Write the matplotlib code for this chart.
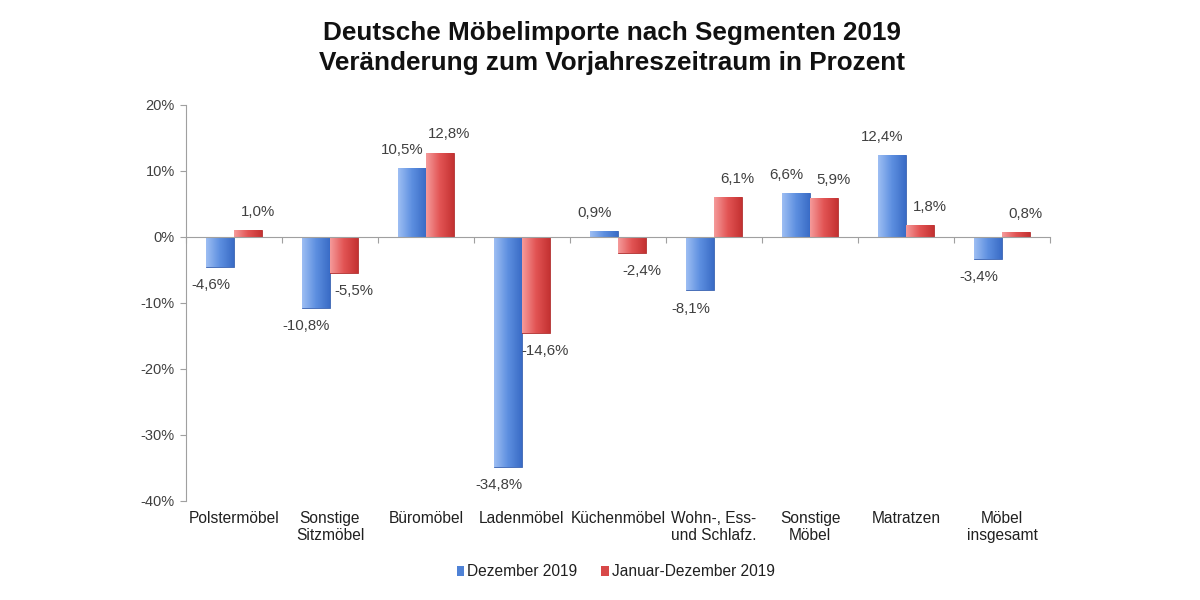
import matplotlib
matplotlib.use("Agg")
import matplotlib.pyplot as plt
import numpy as np
from matplotlib.colors import LinearSegmentedColormap
from matplotlib.patches import Patch

categories = ["Polstermöbel", "Sonstige\nSitzmöbel", "Büromöbel", "Ladenmöbel",
              "Küchenmöbel", "Wohn-, Ess-\nund Schlafz.", "Sonstige\nMöbel",
              "Matratzen", "Möbel\ninsgesamt"]
dez_2019 = [-4.6, -10.8, 10.5, -34.8, 0.9, -8.1, 6.6, 12.4, -3.4]
jan_dez_2019 = [1.0, -5.5, 12.8, -14.6, -2.4, 6.1, 5.9, 1.8, 0.8]
series_names = ["Dezember 2019", "Januar-Dezember 2019"]
yticks = [-40, -30, -20, -10, 0, 10, 20]

plt.rcParams['font.family'] = ['Liberation Sans', 'DejaVu Sans']

fig = plt.figure(figsize=(12, 6), dpi=100)
ax = fig.add_axes([0.155, 0.165, 0.72, 0.66])

x = np.arange(len(categories))
w = 0.29
blue_cmap = LinearSegmentedColormap.from_list("b", ["#9dbef3", "#5d8fe0", "#3a6cc6"])
red_cmap = LinearSegmentedColormap.from_list("r", ["#f59a9a", "#e25454", "#c43232"])

bars_b = ax.bar(x - w / 2, dez_2019, width=w, color="#5d8fe0", edgecolor="#3a62b0", linewidth=0.6, zorder=2)
bars_r = ax.bar(x + w / 2, jan_dez_2019, width=w, color="#e25454", edgecolor="#b03030", linewidth=0.6, zorder=2)

grad = np.linspace(0, 1, 64).reshape(1, -1)
for bars, cmap in ((bars_b, blue_cmap), (bars_r, red_cmap)):
    for p in bars:
        bx, by = p.get_x(), p.get_y()
        bw, bh = p.get_width(), p.get_height()
        im = ax.imshow(grad, cmap=cmap, aspect="auto", extent=(bx, bx + bw, min(by, by + bh), max(by, by + bh)),
                       zorder=2.5, interpolation="bilinear")
        im.set_clip_path(p)

ax.set_xlim(-0.5, len(categories) - 0.5)
ax.set_ylim(-40, 20)
ax.set_yticks(yticks)
ax.set_yticklabels([f"{t}%" for t in yticks], fontsize=10.5, color="#404040")

for s in ("top", "right"):
    ax.spines[s].set_visible(False)
ax.spines["left"].set_color("#a0a0a0")
ax.spines["bottom"].set_position(("data", 0))
ax.spines["bottom"].set_color("#a0a0a0")
ax.tick_params(axis="y", length=4, color="#a0a0a0", pad=4)
ax.set_xticks(np.arange(len(categories) + 1) - 0.5)
ax.set_xticklabels([])
ax.tick_params(axis="x", length=4, color="#a0a0a0", direction="out")

sec = ax.secondary_xaxis(0)
sec.set_xticks(x)
sec.set_xticklabels(categories, fontsize=11.2, color="#202020")
sec.tick_params(length=0, pad=7)
sec.spines["bottom"].set_visible(False)

def fmt(v):
    return f"{v:.1f}%".replace(".", ",")

for vals, dx in ((dez_2019, -0.1), (jan_dez_2019, 0.1)):
    for i, v in enumerate(vals):
        xpos = i + (-w / 2 if dx < 0 else w / 2) + dx
        off = 13 if v >= 0 else -13
        ax.annotate(fmt(v), (xpos, v), xytext=(0, off), textcoords="offset points",
                    ha="center", va="center", fontsize=10.8, color="#404040", zorder=4)

fig.text(0.51, 0.945, "Deutsche Möbelimporte nach Segmenten 2019", ha="center", va="center",
         fontsize=18.8, fontweight="bold", color="#111111")
fig.text(0.51, 0.895, "Veränderung zum Vorjahreszeitraum in Prozent", ha="center", va="center",
         fontsize=18.8, fontweight="bold", color="#111111")

handles = [Patch(facecolor="#4f82d6", edgecolor="none"), Patch(facecolor="#d84848", edgecolor="none")]
fig.legend(handles, series_names, loc="center", bbox_to_anchor=(0.513, 0.047), ncol=2, frameon=False,
           fontsize=11.2, handlelength=0.5, handleheight=0.6, handletextpad=0.2, columnspacing=1.5,
           labelcolor="#202020")

fig.savefig("out.png", dpi=100, facecolor="white")
